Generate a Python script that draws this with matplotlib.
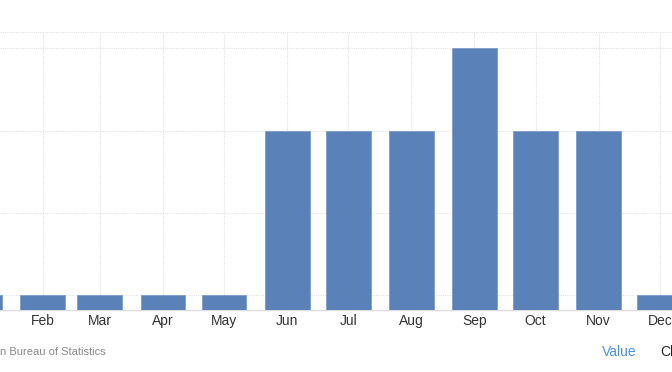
import matplotlib
matplotlib.use("Agg")
import matplotlib.pyplot as plt
import pandas as pd

# data
months = pd.date_range("2023-01-01", "2023-12-01", freq="MS")
month_labels = ["Jan", "Feb", "Mar", "Apr", "May", "Jun",
                "Jul", "Aug", "Sep", "Oct", "Nov", "Dec"]
values = [1, 1, 1, 1, 1, 3, 3, 3, 4, 3, 3, 1]

plt.rcParams['font.family'] = ['Liberation Sans', 'DejaVu Sans']

fig = plt.figure(figsize=(6.72, 3.72), dpi=100)
ax = fig.add_axes([0, 1 - 310 / 372, 1, (310 - 32) / 372])

ax.bar(months, values, width=22, color="#5a82b8", edgecolor="#7d9ccb",
       linewidth=0.6, zorder=3)

ax.set_xticks(months)
ax.set_xticklabels(month_labels)
ax.set_yticks([1, 2, 3, 4])
# limits after the ticks, so the Jan tick does not widen the view
ax.set_xlim(pd.Timestamp("2023-01-11"), pd.Timestamp("2023-12-07"))
ax.set_ylim(0.82, 4.2)
ax.tick_params(axis="x", length=0, pad=3, labelsize=10, labelcolor="#333333")
ax.tick_params(axis="y", length=0, labelleft=False)

ax.grid(True, color="#e2e2e2", linestyle=(0, (1, 1)), linewidth=0.8, zorder=0)
ax.axhline(4.2, color="#e2e2e2", linestyle=(0, (1, 1)), linewidth=0.8, zorder=0)

for side in ["top", "left", "right"]:
    ax.spines[side].set_visible(False)
ax.spines["bottom"].set_color("#dddddd")
ax.spines["bottom"].set_linewidth(1.0)

# footer
fig.text(0.0, 1 - 352 / 372, "n Bureau of Statistics", fontsize=8,
         color="#8a8a8a", va="center", ha="left")
fig.text(602 / 672, 1 - 352 / 372, "Value", fontsize=10, color="#4a90e2",
         va="center", ha="left")
fig.text(660 / 672, 1 - 352 / 372, "Chart", fontsize=10, color="#222222",
         va="center", ha="left")

fig.savefig("out.png", dpi=100)
